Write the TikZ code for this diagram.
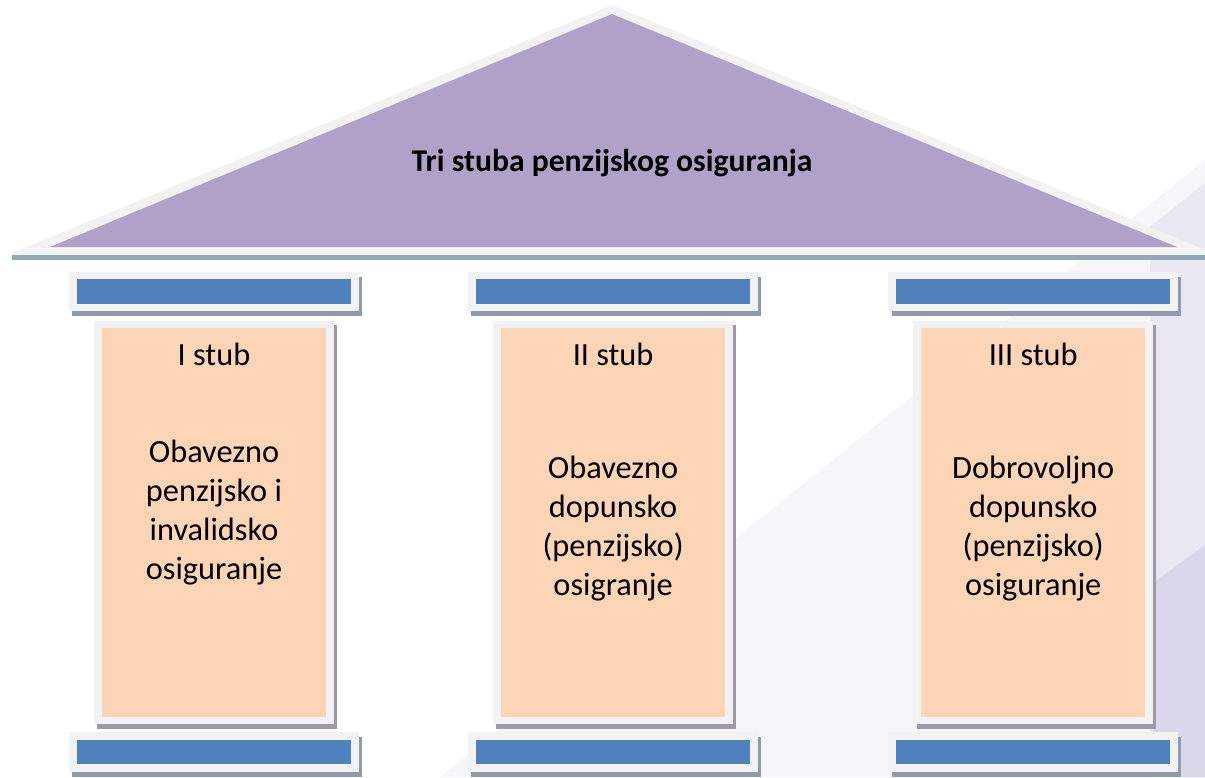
\documentclass[tikz,border=0pt]{standalone}
\usepackage{fontspec}
\setmainfont{Carlito}
\usetikzlibrary{positioning,shadows}

\definecolor{roofpurple}{HTML}{B1A0C7}
\definecolor{framegrey}{HTML}{F2F2F2}
\definecolor{stripteal}{HTML}{8FAAB4}
\definecolor{capblue}{HTML}{4F81BD}
\definecolor{stubpeach}{HTML}{FBD5B5}
\definecolor{capshadow}{HTML}{8E9BAE}
\definecolor{stubshadow}{HTML}{9F97AB}
\definecolor{bgfaint}{HTML}{F5F5FA}
\definecolor{bgmid}{HTML}{E8E7F2}
\definecolor{bgdark}{HTML}{D9D7E9}

\begin{document}
\begin{tikzpicture}[x=0.025cm,y=-0.025cm,node distance=3cm,on grid,
		capital/.style={rectangle,fill=capblue,draw=framegrey,line width=0.19cm,inner sep=0pt,
			minimum width=7.05cm,minimum height=0.8cm,
			drop shadow={shadow xshift=0.08cm,shadow yshift=-0.12cm,fill=capshadow,draw=capshadow,line width=0.19cm,opacity=1}},
		pillar/.style={rectangle,fill=stubpeach,draw=framegrey,line width=0.19cm,inner sep=0pt,
			minimum width=5.8cm,minimum height=9.9cm,
			drop shadow={shadow xshift=0.08cm,shadow yshift=-0.12cm,fill=stubshadow,draw=stubshadow,line width=0.19cm,opacity=1}},
		stubname/.style={font=\fontsize{23}{27.7}\selectfont},
		stubtext/.style={align=center,font=\fontsize{23}{27.7}\selectfont}]
		\useasboundingbox[fill=white] (0,0) rectangle (1205,777);
		
		% background
		\fill[bgfaint] (1205,160) -- (440,777) -- (1205,777) -- cycle;
		\fill[bgmid] (1205,183) -- (1150,227) -- (1150,777) -- (1205,777) -- cycle;
		\fill[bgdark] (1205,545) -- (1153,583) -- (1153,777) -- (1205,777) -- cycle;
		
		% roof
		\fill[framegrey] (10,254) -- (612,5) -- (1205,250) -- (1205,255) -- (12,255) -- cycle;
		\fill[stripteal] (12,255) rectangle (1205,260);
		\fill[roofpurple] (50,247) -- (612,14) -- (1177,247) -- cycle;
		\node[font=\bfseries\fontsize{22.5}{27}\selectfont] (R) at (612,163) {Tri stuba penzijskog osiguranja};
		
		% pillars
		\node[pillar]   (P_1) at (214,522.5) {};
		\node[pillar]   (P_2) [right=9.975cm of P_1] {};
		\node[pillar]   (P_3) [right=10.5cm of P_2] {};
		
		\node[capital]  (C_1) [above=5.77cm of P_1] {};
		\node[capital]  (C_2) [above=5.77cm of P_2] {};
		\node[capital]  (C_3) [above=5.77cm of P_3] {};
		
		\node[capital]  (B_1) [below=5.74cm of P_1] {};
		\node[capital]  (B_2) [below=5.74cm of P_2] {};
		\node[capital]  (B_3) [below=5.74cm of P_3] {};
		
		\node[stubname] (T_1) [above=4.19cm of P_1] {I stub};
		\node[stubname] (T_2) [above=4.19cm of P_2] {II stub};
		\node[stubname] (T_3) [above=4.19cm of P_3] {III stub};
		
		\node[stubtext] (D_1) [above=0.25cm of P_1] {Obavezno\\penzijsko i\\invalidsko\\osiguranje};
		\node[stubtext] (D_2) [below=0.15cm of P_2] {Obavezno\\dopunsko\\(penzijsko)\\osigranje};
		\node[stubtext] (D_3) [below=0.15cm of P_3] {Dobrovoljno\\dopunsko\\(penzijsko)\\osiguranje};
	\end{tikzpicture}
\end{document}
